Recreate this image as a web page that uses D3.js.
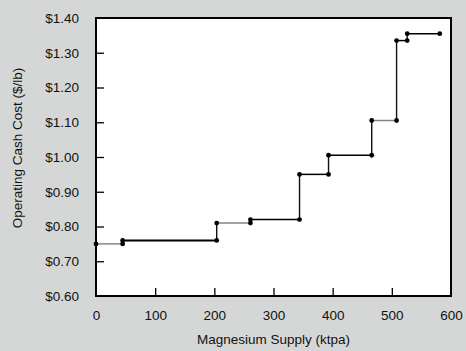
<!DOCTYPE html>
<html>
<head>
<meta charset="utf-8">
<script src="https://cdn.jsdelivr.net/npm/d3@7"></script>
<style>
  body { margin: 0; background: #d5d7d7; }
  svg { display: block; }
</style>
</head>
<body>
<div id="chart"></div>
<script>
// cost curve: each producer is a step from supplyStart to supplyEnd at its cost
const supplyStart = [0, 45, 204, 261, 344, 393, 466, 508, 526];
const supplyEnd   = [45, 204, 261, 344, 393, 466, 508, 526, 581];
const costs       = [0.75, 0.76, 0.81, 0.82, 0.95, 1.005, 1.105, 1.335, 1.355];
const tones       = ["grey", "black", "grey", "black", "black", "black", "grey", "black", "black"];
const xTicks = [0, 100, 200, 300, 400, 500, 600];
const yTicks = [0.6, 0.7, 0.8, 0.9, 1.0, 1.1, 1.2, 1.3, 1.4];

let margin = {top: 18, right: 15, bottom: 55, left: 96},
    width = 466 - margin.left - margin.right,
    height = 351 - margin.top - margin.bottom;

const font = "'Liberation Sans', Arial, sans-serif";

let svg = d3.select("#chart")
    .append("svg")
    .attr("width", 466)
    .attr("height", 351);

let g = svg.append("g")
    .attr("transform", `translate(${margin.left}, ${margin.top})`);

let x = d3.scaleLinear().domain([0, 600]).range([0, width]);
let y = d3.scaleLinear().domain([0.6, 1.4]).range([height, 0]);

g.append("rect")
    .attr("width", width)
    .attr("height", height)
    .attr("fill", "white")
    .attr("stroke", "black")
    .attr("stroke-width", 2);

// axes with inward ticks
let xAxis = g.append("g")
    .attr("transform", `translate(0, ${height})`)
    .call(d3.axisBottom(x).tickValues(xTicks).tickSize(-8).tickPadding(14).tickFormat(d3.format("d")));
let yAxis = g.append("g")
    .call(d3.axisLeft(y).tickValues(yTicks).tickSize(-8).tickPadding(17).tickFormat(d => "$" + d.toFixed(2)));

[xAxis, yAxis].forEach(a => {
    a.select(".domain").remove();
    a.selectAll("line").attr("stroke", "black").attr("stroke-width", 1.3);
    a.selectAll("text")
        .attr("fill", "#111")
        .style("font-family", font)
        .style("font-size", "13.5px");
});
// hide the end ticks, the frame covers them
xAxis.selectAll(".tick line").filter(d => d === 0 || d === 600).remove();
yAxis.selectAll(".tick line").filter(d => d === 0.6 || d === 1.4).remove();

let steps = supplyStart.map((s, i) => ({s: s, e: supplyEnd[i], c: costs[i], tone: tones[i]}));

// vertical risers between producers
let risers = steps.slice(1).map((d, i) => ({x: d.s, y0: steps[i].c, y1: d.c}));
g.append("g")
    .selectAll("line")
    .data(risers)
    .enter()
    .append("line")
    .attr("x1", d => x(d.x))
    .attr("x2", d => x(d.x))
    .attr("y1", d => y(d.y0))
    .attr("y2", d => y(d.y1))
    .attr("stroke", "#111")
    .attr("stroke-width", 1.4);

// horizontal steps
g.append("g")
    .selectAll("line")
    .data(steps)
    .enter()
    .append("line")
    .attr("x1", d => x(d.s))
    .attr("x2", d => x(d.e))
    .attr("y1", d => y(d.c))
    .attr("y2", d => y(d.c))
    .attr("stroke", d => d.tone === "grey" ? "#858585" : "#000")
    .attr("stroke-width", d => d.s === 45 ? 2 : 1.5);

// end markers
let points = [];
steps.forEach(d => { points.push({x: d.s, c: d.c}); points.push({x: d.e, c: d.c}); });
g.append("g")
    .selectAll("circle")
    .data(points)
    .enter()
    .append("circle")
    .attr("cx", d => x(d.x))
    .attr("cy", d => y(d.c))
    .attr("r", 2.4)
    .attr("fill", "black");

svg.append("text")
    .attr("x", margin.left + width / 2)
    .attr("y", 344)
    .attr("text-anchor", "middle")
    .style("font-family", font)
    .style("font-size", "13.5px")
    .attr("fill", "#111")
    .text("Magnesium Supply (ktpa)");

svg.append("text")
    .attr("transform", "translate(22, 148) rotate(-90)")
    .attr("text-anchor", "middle")
    .style("font-family", font)
    .style("font-size", "13.5px")
    .attr("fill", "#111")
    .text("Operating Cash Cost ($/lb)");
</script>
</body>
</html>
